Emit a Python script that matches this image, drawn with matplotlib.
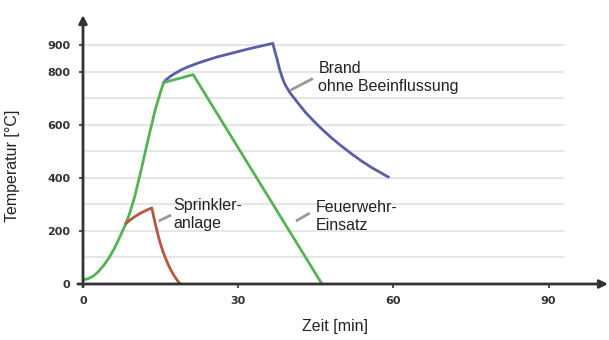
import numpy as np
import matplotlib.pyplot as plt

# time [min] / temperature [°C]
green_t = [0, 1, 2, 3, 4, 5, 6, 7, 8, 9, 10, 11, 12, 13, 14, 15, 15.6, 21.3, 46.2]
green_T = [15, 20, 30, 47, 70, 98, 132, 172, 215, 265, 330, 410, 495, 580, 660, 725, 760, 790, 0]

blue_t = [15.6, 16, 17, 18, 19, 20, 22, 24, 26, 28, 30, 32, 34, 36.7,
          37, 37.5, 38, 38.5, 39, 39.5, 40, 41, 42, 43, 44.5, 46, 48, 50, 52, 54, 56, 59]
blue_T = [760, 770, 785, 797, 808, 817, 832, 845, 857, 867, 877, 887, 896, 908,
          885, 850, 810, 780, 755, 738, 722, 697, 672, 648, 617, 588, 552, 520, 490, 462, 437, 404]

red_t = [8.3, 9, 10, 11, 12, 13.3, 13.6, 14, 14.5, 15, 15.5, 16, 16.5, 17, 17.5, 18, 18.5, 18.8]
red_T = [228, 240, 254, 266, 276, 287, 260, 225, 185, 150, 120, 95, 72, 52, 35, 20, 7, 0]

x_ticks = [0, 30, 60, 90]
y_ticks = [0, 200, 400, 600, 800, 900]
grid_levels = [100, 200, 300, 400, 500, 600, 700, 800, 900]

fig = plt.figure(figsize=(6.09, 3.40), dpi=100)
ax = fig.add_axes([83 / 609, 56 / 340, 525 / 609, 269 / 340])
ax.set_xlim(0, 101.5)
ax.set_ylim(0, 1015)
for s in ax.spines.values():
    s.set_visible(False)

ax.hlines(grid_levels, 0, 93, color="#e6e6e6", lw=1.5, zorder=0)

ax.plot(blue_t, blue_T, color="#5a5ea8", lw=2, solid_joinstyle="round")
ax.plot(green_t, green_T, color="#55b356", lw=2, solid_joinstyle="round")
ax.plot(red_t, red_T, color="#b5583f", lw=2, solid_joinstyle="round")

# axes with arrows
arrow = dict(arrowstyle="-|>", color="#333333", lw=2, mutation_scale=12, shrinkA=0, shrinkB=0)
ax.annotate("", xy=(101.5, 0), xytext=(-1, 0), arrowprops=arrow, annotation_clip=False)
ax.annotate("", xy=(0, 1015), xytext=(0, -10), arrowprops=arrow, annotation_clip=False)

ax.set_xticks(x_ticks)
ax.set_yticks(y_ticks)
ax.tick_params(length=3, width=1.5, color="#555555", labelsize=8, labelcolor="#333333", pad=6)
for lab in ax.get_xticklabels() + ax.get_yticklabels():
    lab.set_fontweight("bold")

font = dict(family="Liberation Sans", fontsize=11.5, color="#222222")
ax.set_xlabel("Zeit [min]", labelpad=10, **font)
ax.xaxis.set_label_coords(0.48, -0.13)
ax.set_ylabel("Temperatur [°C]", **font)
ax.yaxis.set_label_coords(-0.12, 0.44)

# curve labels with short leader lines
lead = dict(color="#999999", lw=2)
ax.plot([40.3, 44.2], [733, 773], **lead)
ax.text(45.5, 778, "Brand\nohne Beeinflussung", va="center", linespacing=1.25, **font)
ax.plot([14.9, 16.8], [240, 258], **lead)
ax.text(17.5, 262, "Sprinkler-\nanlage", va="center", linespacing=1.25, **font)
ax.plot([41.4, 43.6], [240, 265], **lead)
ax.text(45, 255, "Feuerwehr-\nEinsatz", va="center", linespacing=1.25, **font)

plt.savefig("out.png", dpi=100)
